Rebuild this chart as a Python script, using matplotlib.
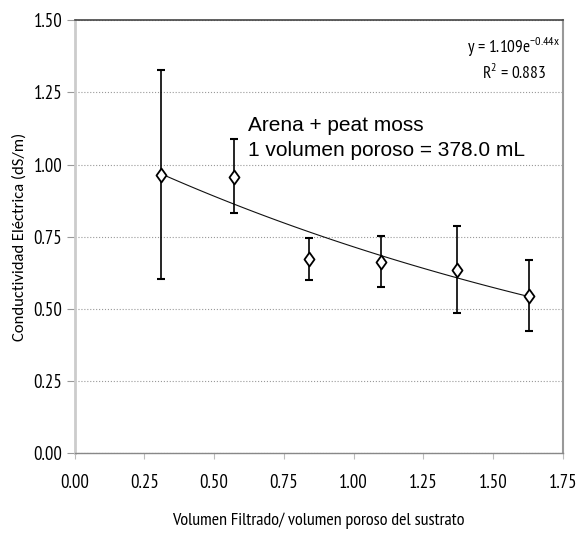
import matplotlib
matplotlib.use('Agg')
import matplotlib.pyplot as plt
from matplotlib.path import Path
import numpy as np

# datos
vol_filtrado = [0.31, 0.57, 0.84, 1.10, 1.37, 1.63]
ce_media = [0.963, 0.958, 0.673, 0.662, 0.635, 0.545]
err_sup = [1.327, 1.088, 0.744, 0.752, 0.785, 0.668]
err_inf = [0.602, 0.830, 0.598, 0.575, 0.485, 0.422]
coef_a, coef_b = 1.109, -0.44
yticks = [0.00, 0.25, 0.50, 0.75, 1.00, 1.25, 1.50]
xticks = [0.00, 0.25, 0.50, 0.75, 1.00, 1.25, 1.50, 1.75]

narrow = ['PT Sans Narrow', 'DejaVu Sans']

# rombo un poco mas alto que ancho
rombo = Path([(0, 1), (0.72, 0), (0, -1), (-0.72, 0), (0, 1)],
             [Path.MOVETO, Path.LINETO, Path.LINETO, Path.LINETO, Path.CLOSEPOLY])

fig = plt.figure(figsize=(5.79, 5.37), dpi=100, facecolor='white')
ax = fig.add_axes([0.129, 0.157, 0.843, 0.805])

yerr = [np.array(ce_media) - np.array(err_inf), np.array(err_sup) - np.array(ce_media)]
ax.errorbar(vol_filtrado, ce_media, yerr=yerr, fmt='none', ecolor='black',
            elinewidth=1.2, capsize=2.8, capthick=1.5, zorder=3)
ax.plot(vol_filtrado, ce_media, linestyle='none', marker=rombo, markersize=10,
        markerfacecolor='white', markeredgecolor='black', markeredgewidth=1.3, zorder=4)

# linea de tendencia exponencial
xt = np.linspace(vol_filtrado[0], vol_filtrado[-1], 100)
ax.plot(xt, coef_a * np.exp(coef_b * xt), color='#111111', linewidth=0.8, zorder=2)

ax.set_xlim(0, 1.75)
ax.set_ylim(0, 1.5)
ax.set_xticks(xticks)
ax.set_yticks(yticks)
ax.set_xticklabels([f"{v:.2f}" for v in xticks], family=narrow, fontsize=13.5)
ax.set_yticklabels([f"{v:.2f}" for v in yticks], family=narrow, fontsize=13.5)
ax.tick_params(axis='x', length=4, color='#bbbbbb', pad=11)
ax.tick_params(axis='y', length=6, color='#999999', pad=3)

ax.yaxis.grid(True, linestyle=':', color='#999999', linewidth=0.8)
ax.set_axisbelow(True)

ax.spines['left'].set_color('#cccccc')
ax.spines['left'].set_linewidth(2)
ax.spines['bottom'].set_color('#888888')
ax.spines['bottom'].set_linewidth(1)
ax.spines['top'].set_color('#444444')
ax.spines['top'].set_linewidth(1.2)
ax.spines['right'].set_color('#999999')
ax.spines['right'].set_linewidth(1.5)

ax.set_xlabel("Volumen Filtrado/ volumen poroso del sustrato", family=narrow,
              fontsize=13, labelpad=15)
ax.set_ylabel("Conductividad Eléctrica (dS/m)", family=['Carlito', 'DejaVu Sans'],
              fontsize=12, labelpad=5)

ax.text(1.575, 1.405, r"y = 1.109e$^{\mathregular{-0.44x}}$", family=narrow, fontsize=12.5,
        ha='center', va='center')
ax.text(1.575, 1.315, r"R$^{\mathregular{2}}$ = 0.883", family=narrow, fontsize=12.5,
        ha='center', va='center')
ax.text(0.62, 1.115, "Arena + peat moss", family='Liberation Sans', fontsize=15,
        ha='left', va='baseline')
ax.text(0.62, 1.03, "1 volumen poroso = 378.0 mL", family='Liberation Sans', fontsize=15,
        ha='left', va='baseline')

plt.savefig("out.png", dpi=100)
